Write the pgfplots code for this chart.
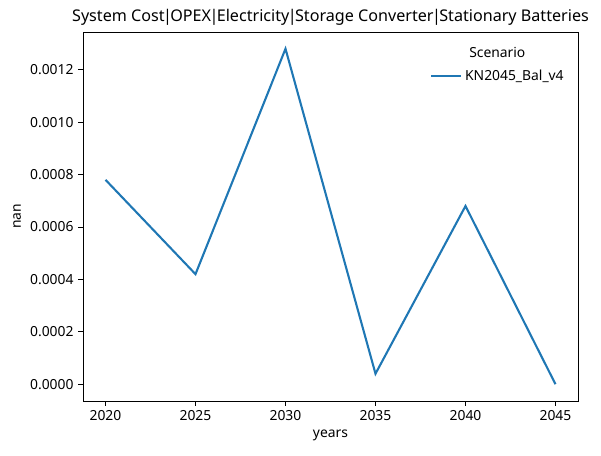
\documentclass[border=0pt]{standalone}
\usepackage{pgfplots}
\pgfplotsset{compat=1.18}
\usepackage{fontspec}
\setmainfont{Noto Sans}
\definecolor{mplblue}{HTML}{1F77B4}
\newcommand{\vb}{\kern-1.2pt|\kern-1.2pt}
\begin{document}
\begin{tikzpicture}[x=0.75pt,y=0.75pt]
\useasboundingbox (-83,-55) rectangle (518,401);
\begin{axis}[
  at={(0,0)}, anchor=south west,
  scale only axis, width=371.25pt, height=276.75pt,
  xmin=2018.75, xmax=2046.25,
  ymin=-0.000064, ymax=0.001344,
  xtick={2020,2025,2030,2035,2040,2045},
  ytick={0,0.0002,0.0004,0.0006,0.0008,0.0010,0.0012},
  scaled y ticks=false,
  yticklabel style={/pgf/number format/.cd,fixed,fixed zerofill,precision=4},
  xticklabel style={/pgf/number format/.cd,1000 sep={}},
  /pgf/number format/assume math mode=true,
  tick align=outside, tick pos=left,
  major tick length=3.6pt,
  every tick/.style={black, line width=0.6pt},
  axis line style={line width=0.6pt},
  ticklabel style={font=\fontsize{10.4}{12}\selectfont},
  label style={font=\fontsize{10.4}{12}\selectfont},
  xlabel={years}, ylabel={nan},
  title={System Cost\vb OPEX\vb Electricity\vb Storage Converter\vb Stationary Batteries},
  title style={font=\fontsize{12.1}{14}\selectfont, yshift=-4.5pt},
  legend style={draw=none, fill=none, at={(0.985,0.913)}, anchor=north east,
    font=\fontsize{10.4}{12}\selectfont, row sep=2pt},
  legend cell align=left,
  legend image code/.code={\draw[#1, line width=1.56pt] (0pt,0pt) -- (22.5pt,0pt);},
]
\addplot[color=mplblue, line width=1.56pt] coordinates {
  (2020,0.00078) (2025,0.00042) (2030,0.00128) (2035,0.00004) (2040,0.00068) (2045,0.0)
};
\addlegendentry{KN2045\_Bal\_v4}
\node[font=\fontsize{10.4}{12}\selectfont] at (rel axis cs:0.837,0.945) {Scenario};
\end{axis}
\end{tikzpicture}
\end{document}
